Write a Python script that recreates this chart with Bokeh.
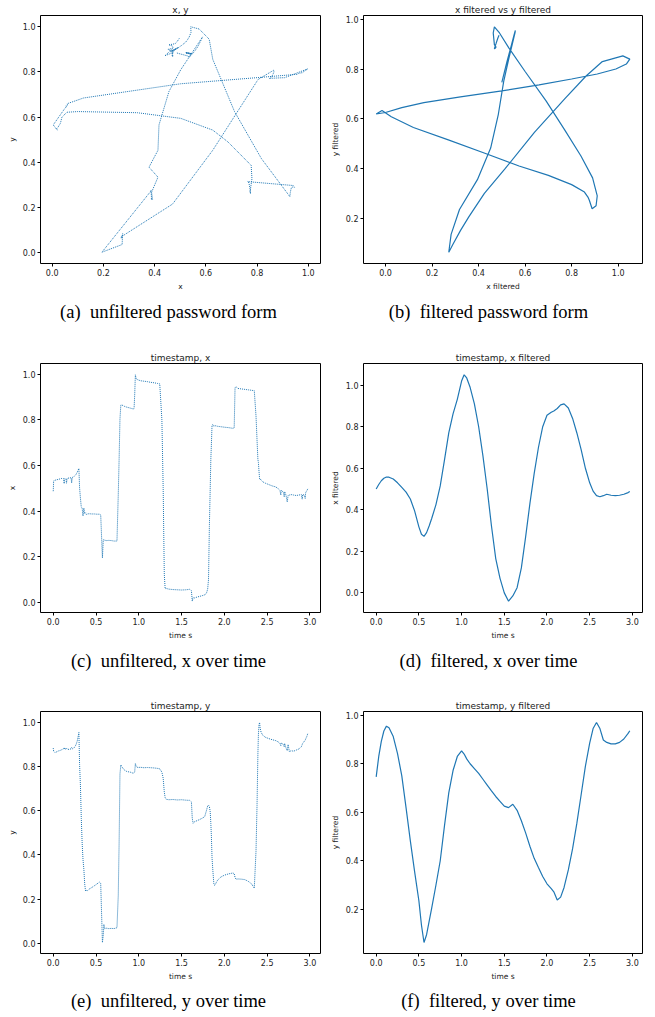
from bokeh.plotting import figure
from bokeh.layouts import column, row
from bokeh.models import Range1d, FixedTicker, PrintfTickFormatter, Title
from bokeh.embed import file_html
from bokeh.resources import INLINE

# ---------------- raw (unfiltered) samples ----------------
t_raw = [0.000, 0.005, 0.020, 0.040, 0.060, 0.080, 0.100, 0.120, 0.128, 0.135,
         0.150, 0.155, 0.162, 0.185, 0.210, 0.215, 0.222, 0.245, 0.265, 0.280,
         0.292, 0.300, 0.308, 0.318, 0.328, 0.338, 0.348, 0.358, 0.368, 0.378,
         0.386, 0.400, 0.420, 0.450, 0.480, 0.510, 0.540, 0.555, 0.575, 0.585,
         0.592, 0.600, 0.620, 0.650, 0.680, 0.710, 0.745, 0.760, 0.770, 0.780,
         0.790, 0.800, 0.830, 0.860, 0.900, 0.935, 0.945, 0.952, 0.960, 0.970,
         0.990, 1.020, 1.060, 1.100, 1.140, 1.180, 1.220, 1.245, 1.270, 1.285,
         1.298, 1.308, 1.320, 1.350, 1.400, 1.450, 1.500, 1.550, 1.595, 1.615,
         1.625, 1.635, 1.650, 1.680, 1.710, 1.740, 1.770, 1.790, 1.805, 1.815,
         1.825, 1.835, 1.842, 1.848, 1.856, 1.866, 1.878, 1.888, 1.920, 1.960,
         2.000, 2.050, 2.100, 2.115, 2.125, 2.135, 2.160, 2.200, 2.240, 2.280,
         2.320, 2.350, 2.370, 2.382, 2.392, 2.398, 2.405, 2.412, 2.418, 2.430,
         2.450, 2.480, 2.520, 2.560, 2.600, 2.630, 2.650, 2.660, 2.665, 2.690,
         2.700, 2.705, 2.720, 2.735, 2.745, 2.760, 2.780, 2.810, 2.840, 2.870,
         2.900, 2.910, 2.915, 2.935, 2.945, 2.950, 2.965, 2.975]
x_raw = [0.487, 0.532, 0.535, 0.537, 0.539, 0.541, 0.543, 0.542, 0.520, 0.542,
         0.541, 0.522, 0.543, 0.545, 0.546, 0.523, 0.547, 0.552, 0.560, 0.570,
         0.580, 0.587, 0.502, 0.456, 0.417, 0.413, 0.378, 0.413, 0.388, 0.392,
         0.385, 0.387, 0.388, 0.387, 0.387, 0.386, 0.386, 0.383, 0.194, 0.273,
         0.275, 0.272, 0.270, 0.271, 0.270, 0.268, 0.268, 0.470, 0.627, 0.804,
         0.865, 0.866, 0.860, 0.856, 0.852, 0.848, 0.850, 0.908, 0.998, 0.980,
         0.976, 0.972, 0.970, 0.968, 0.965, 0.963, 0.960, 0.958, 0.800, 0.502,
         0.122, 0.059, 0.060, 0.057, 0.055, 0.054, 0.053, 0.054, 0.056, 0.050,
         0.004, 0.020, 0.018, 0.022, 0.025, 0.028, 0.032, 0.038, 0.057, 0.100,
         0.332, 0.502, 0.627, 0.686, 0.777, 0.780, 0.772, 0.775, 0.772, 0.770,
         0.768, 0.766, 0.763, 0.765, 0.941, 0.946, 0.938, 0.936, 0.934, 0.932,
         0.930, 0.928, 0.817, 0.712, 0.627, 0.613, 0.574, 0.541, 0.542, 0.535,
         0.528, 0.522, 0.516, 0.510, 0.506, 0.498, 0.490, 0.470, 0.492, 0.482,
         0.462, 0.485, 0.470, 0.440, 0.468, 0.470, 0.472, 0.470, 0.468, 0.470,
         0.472, 0.452, 0.472, 0.470, 0.455, 0.480, 0.490, 0.497]
y_raw = [0.884, 0.870, 0.864, 0.867, 0.871, 0.873, 0.877, 0.880, 0.886, 0.878,
         0.882, 0.884, 0.879, 0.878, 0.881, 0.886, 0.880, 0.886, 0.898, 0.915,
         0.938, 0.955, 0.810, 0.714, 0.566, 0.454, 0.379, 0.335, 0.268, 0.235,
         0.240, 0.238, 0.245, 0.252, 0.260, 0.268, 0.277, 0.270, 0.003, 0.037,
         0.085, 0.066, 0.068, 0.066, 0.067, 0.066, 0.070, 0.216, 0.454, 0.767,
         0.808, 0.800, 0.785, 0.778, 0.775, 0.770, 0.772, 0.775, 0.814, 0.800,
         0.796, 0.797, 0.795, 0.796, 0.795, 0.794, 0.792, 0.790, 0.775, 0.748,
         0.685, 0.660, 0.652, 0.650, 0.651, 0.649, 0.650, 0.648, 0.647, 0.640,
         0.566, 0.543, 0.550, 0.555, 0.560, 0.566, 0.573, 0.600, 0.622, 0.625,
         0.620, 0.595, 0.543, 0.491, 0.387, 0.328, 0.265, 0.262, 0.285, 0.300,
         0.308, 0.314, 0.318, 0.315, 0.298, 0.290, 0.291, 0.290, 0.288, 0.280,
         0.268, 0.249, 0.417, 0.625, 0.856, 0.945, 0.990, 1.000, 0.975, 0.955,
         0.942, 0.933, 0.927, 0.922, 0.918, 0.912, 0.905, 0.895, 0.908, 0.900,
         0.890, 0.905, 0.885, 0.872, 0.900, 0.868, 0.872, 0.870, 0.875, 0.880,
         0.890, 0.900, 0.905, 0.915, 0.920, 0.925, 0.938, 0.950]

# ---------------- filtered samples ----------------
t_filt = [0.00, 0.03, 0.06, 0.09, 0.12, 0.15, 0.20, 0.25, 0.30, 0.35,
          0.40, 0.45, 0.50, 0.53, 0.56, 0.59, 0.62, 0.65, 0.70, 0.75,
          0.80, 0.85, 0.90, 0.95, 1.00, 1.03, 1.06, 1.10, 1.15, 1.20,
          1.25, 1.30, 1.35, 1.40, 1.45, 1.50, 1.55, 1.60, 1.65, 1.70,
          1.75, 1.80, 1.85, 1.90, 1.95, 2.00, 2.05, 2.08, 2.12, 2.16,
          2.20, 2.25, 2.30, 2.35, 2.40, 2.45, 2.50, 2.54, 2.58, 2.62,
          2.66, 2.70, 2.75, 2.80, 2.85, 2.90, 2.95, 2.97]
x_filt = [0.500, 0.522, 0.540, 0.552, 0.558, 0.557, 0.548, 0.530, 0.508, 0.485,
          0.452, 0.395, 0.318, 0.282, 0.272, 0.290, 0.322, 0.358, 0.425, 0.515,
          0.640, 0.770, 0.862, 0.932, 1.020, 1.050, 1.035, 0.990, 0.910, 0.800,
          0.660, 0.500, 0.322, 0.165, 0.070, 0.000, -0.040, -0.015, 0.025, 0.120,
          0.270, 0.430, 0.574, 0.700, 0.800, 0.855, 0.870, 0.876, 0.888, 0.905,
          0.910, 0.890, 0.840, 0.770, 0.690, 0.600, 0.530, 0.490, 0.468, 0.463,
          0.468, 0.475, 0.470, 0.468, 0.470, 0.475, 0.483, 0.488]
y_filt = [0.746, 0.830, 0.892, 0.935, 0.955, 0.948, 0.912, 0.842, 0.750, 0.618,
          0.482, 0.355, 0.235, 0.135, 0.063, 0.095, 0.150, 0.205, 0.300, 0.400,
          0.545, 0.680, 0.772, 0.830, 0.853, 0.840, 0.820, 0.800, 0.780, 0.760,
          0.736, 0.712, 0.688, 0.665, 0.645, 0.625, 0.619, 0.633, 0.608, 0.565,
          0.515, 0.460, 0.410, 0.372, 0.335, 0.305, 0.285, 0.272, 0.238, 0.250,
          0.290, 0.362, 0.450, 0.555, 0.672, 0.790, 0.885, 0.945, 0.970, 0.945,
          0.898, 0.888, 0.882, 0.882, 0.888, 0.902, 0.925, 0.936]

unit_ticks = [0.0, 0.2, 0.4, 0.6, 0.8, 1.0]
time_ticks = [0.0, 0.5, 1.0, 1.5, 2.0, 2.5, 3.0]

titles = ["x, y", "x filtered vs y filtered", "timestamp, x",
          "timestamp, x filtered", "timestamp, y", "timestamp, y filtered"]
captions = ["(a)\u2002unfiltered password form", "(b)\u2002filtered password form",
            "(c)\u2002unfiltered, x over time", "(d)\u2002filtered, x over time",
            "(e)\u2002unfiltered, y over time", "(f)\u2002filtered, y over time"]

BLUE = "#1f77b4"
SANS = "DejaVu Sans"
CAP_FONT = "Liberation Serif"
CAP_SIZE = 18.5

# approximate advance widths (per 1000 em) of the serif caption font,
# used only to centre each caption under its whole sub-figure
SERIF_W = {" ": 250, "\u2002": 500, "(": 333, ")": 333, ",": 250, "a": 444,
           "b": 500, "c": 444, "d": 500, "e": 444, "f": 333, "i": 278, "l": 278,
           "m": 778, "n": 500, "o": 500, "p": 500, "r": 333, "s": 389, "t": 278,
           "u": 500, "v": 500, "w": 722, "x": 500, "y": 500}


def text_width(s, size):
    return sum(SERIF_W.get(c, 500) for c in s) * size / 1000.0


def padded(vals):
    lo, hi = min(vals), max(vals)
    pad = 0.05 * (hi - lo)
    return Range1d(lo - pad, hi + pad)


def panel(xs, ys, xlabel, ylabel, title, caption, dotted, xticks, yticks,
          width, height, left, right, top, bottom, cap_center, cap_standoff):
    p = figure(width=width, height=height, output_backend="svg",
               toolbar_location=None, x_range=padded(xs), y_range=padded(ys),
               min_border_left=left, min_border_right=right,
               min_border_top=top, min_border_bottom=bottom)
    if dotted:
        p.line(xs, ys, line_color=BLUE, line_width=1.0, line_dash="1 1")
    else:
        p.line(xs, ys, line_color=BLUE, line_width=1.2)
    p.xgrid.visible = False
    p.ygrid.visible = False
    p.outline_line_color = "black"
    p.outline_line_width = 1
    p.outline_line_alpha = 1.0
    p.background_fill_color = "white"
    p.border_fill_color = "white"
    p.xaxis.axis_label = xlabel
    p.yaxis.axis_label = ylabel
    p.xaxis.ticker = FixedTicker(ticks=xticks)
    p.yaxis.ticker = FixedTicker(ticks=yticks)
    for ax in (p.xaxis[0], p.yaxis[0]):
        ax.formatter = PrintfTickFormatter(format="%.1f")
        ax.axis_line_color = None
        ax.major_tick_in = 0
        ax.major_tick_out = 3
        ax.minor_tick_in = 0
        ax.minor_tick_out = 0
        ax.major_tick_line_color = "black"
        ax.minor_tick_line_color = None
        ax.major_label_text_font = SANS
        ax.major_label_text_font_size = "8px"
        ax.major_label_text_color = "#222222"
        ax.major_label_standoff = 2
        ax.axis_label_text_font = SANS
        ax.axis_label_text_font_size = "7.5px"
        ax.axis_label_text_font_style = "normal"
        ax.axis_label_text_color = "#222222"
        ax.axis_label_standoff = 3
    p.title.text = title
    p.title.align = "center"
    p.title.text_font = SANS
    p.title.text_font_size = "9px"
    p.title.text_font_style = "normal"
    p.title.text_color = "#222222"
    p.title.standoff = 1
    # caption: left aligned, shifted so that it is centred on the sub-figure
    off = cap_center - left - text_width(caption, CAP_SIZE) / 2.0
    cap = Title(text=caption, align="left", offset=off, text_font=CAP_FONT,
                text_font_size=f"{CAP_SIZE}px", text_font_style="normal",
                text_color="black", standoff=cap_standoff)
    p.add_layout(cap, "below")
    return p


# the page has no margin: figures start at (0, 0)
LW, RW = 325, 330            # left / right figure widths
LB_L, RB_L = 40, 5           # left figure borders (frame 280)
LB_R, RB_R = 38, 13          # right figure borders (frame 279)
TOP = 15
rows_h = [(348, 85, 13), (348, 84, 13), (320, 57, 11)]   # height, bottom border, caption standoff
CAP_L, CAP_R = 168, 163      # caption centre measured from each figure's left edge

pa = panel(x_raw, y_raw, "x", "y", titles[0], captions[0], True,
           unit_ticks, unit_ticks, LW, rows_h[0][0], LB_L, RB_L, TOP, rows_h[0][1],
           CAP_L, rows_h[0][2])
pb = panel(x_filt, y_filt, "x filtered", "y filtered", titles[1], captions[1], False,
           unit_ticks, unit_ticks, RW, rows_h[0][0], LB_R, RB_R, TOP, rows_h[0][1],
           CAP_R, rows_h[0][2])
pc = panel(t_raw, x_raw, "time s", "x", titles[2], captions[2], True,
           time_ticks, unit_ticks, LW, rows_h[1][0], LB_L, RB_L, TOP, rows_h[1][1],
           CAP_L, rows_h[1][2])
pd = panel(t_filt, x_filt, "time s", "x filtered", titles[3], captions[3], False,
           time_ticks, unit_ticks, RW, rows_h[1][0], LB_R, RB_R, TOP, rows_h[1][1],
           CAP_R, rows_h[1][2])
pe = panel(t_raw, y_raw, "time s", "y", titles[4], captions[4], True,
           time_ticks, unit_ticks, LW, rows_h[2][0], LB_L, RB_L, TOP, rows_h[2][1],
           CAP_L, rows_h[2][2])
pf = panel(t_filt, y_filt, "time s", "y filtered", titles[5], captions[5], False,
           time_ticks, unit_ticks, RW, rows_h[2][0], LB_R, RB_R, TOP, rows_h[2][1],
           CAP_R, rows_h[2][2])

layout = column(row(pa, pb), row(pc, pd), row(pe, pf))
open("out.html", "w").write(file_html(layout, INLINE))
